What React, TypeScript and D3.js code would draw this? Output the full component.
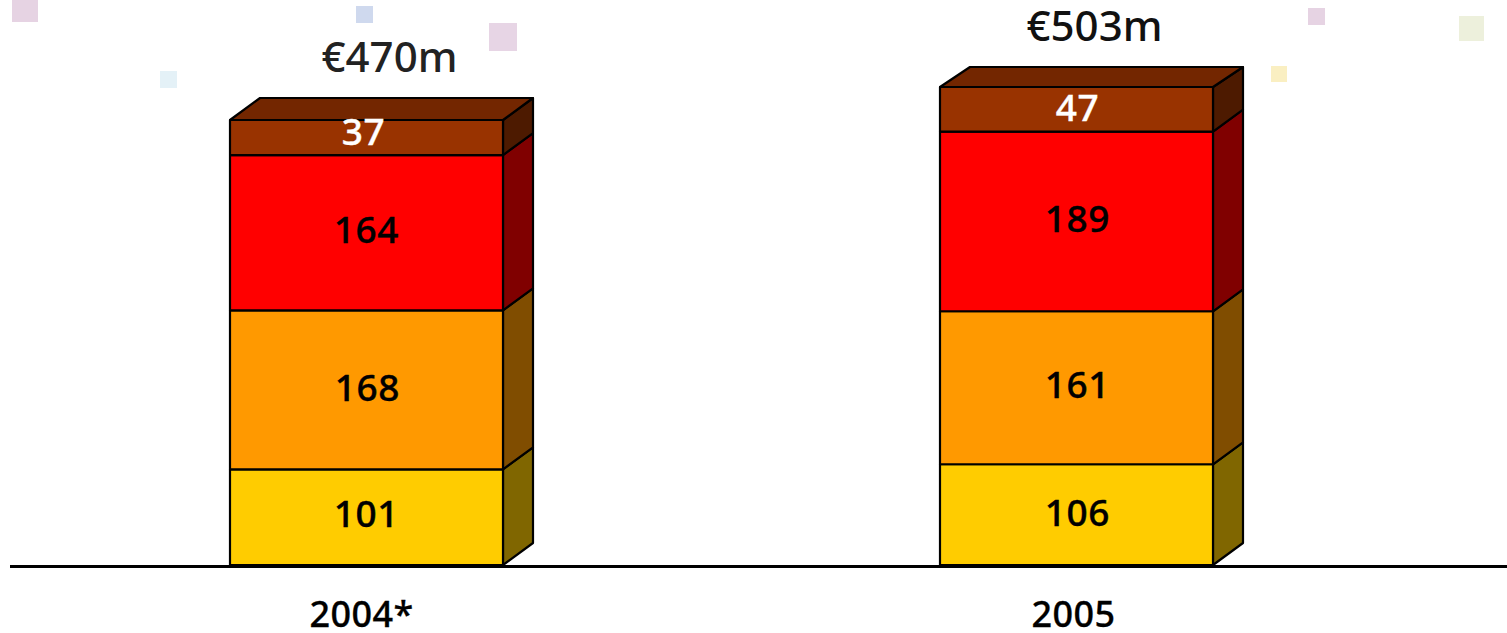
import React from "react";
import * as d3 from "d3";

const WIDTH = 1507;
const HEIGHT = 633;

const years = ["2004*", "2005"];
const totals = ["€470m", "€503m"];
const totalValues = [470, 503];
const segment2004 = [101, 168, 164, 37];
const segment2005 = [106, 161, 189, 47];
const segmentValues = [segment2004, segment2005];

const frontColors = ["#ffcc00", "#ff9900", "#ff0000", "#993300"];
const sideColors = ["#806600", "#804d00", "#800000", "#4d1a00"];
const topColor = "#732600";
const labelColors = ["#000000", "#000000", "#000000", "#ffffff"];

// Offsets nudging each value label to where it sits on its block.
const labelNudgeX = [
  [0, 1, 0, -3],
  [1, 1, 1, 1],
];
const labelNudgeY = [
  [-3, -2, -3, -6],
  [-2, -3, -2, -1],
];

// Pale confetti squares scattered behind the chart: x, y, size, colour.
const squareX = [12, 160, 356, 489, 1271, 1308, 1459];
const squareY = [-4, 71, 6, 23, 66, 8, 16];
const squareSize = [26, 17, 17, 28, 16, 17, 25];
const squareFill = ["#e6d3e3", "#e4f1f7", "#cfd9ee", "#e7d5e5", "#faefc2", "#e6d3e3", "#edf0dc"];

const fontFamily = "'Noto Sans', sans-serif";
const baseline = 565;
const barWidth = 273;
const depthX = 30;
const depthY = 22;
const stackTops = [120, 87];
const lidDepthY = [22, 20];

const x = d3.scalePoint<string>().domain(years).range([366.5, 1076.5]);
const yFor = (i: number) =>
  d3.scaleLinear().domain([0, totalValues[i]]).range([baseline, stackTops[i]]);

const poly = (pts: [number, number][]) => d3.line()(pts) + "Z";

export default function App() {
  return (
    <svg
      width={WIDTH}
      height={HEIGHT}
      style={{ position: "absolute", left: 0, top: 0, background: "#fff" }}
      fontFamily={fontFamily}
    >
      {squareX.map((sx, i) => (
        <rect key={i} x={sx} y={squareY[i]} width={squareSize[i]} height={squareSize[i]} fill={squareFill[i]} />
      ))}

      {years.map((year, yi) => {
        const y = yFor(yi);
        const cx = x(year)!;
        const left = cx - barWidth / 2;
        const right = cx + barWidth / 2;
        const stack = d3.cumsum(segmentValues[yi]);
        const top = y(stack[stack.length - 1]);
        const lid = lidDepthY[yi];
        const lastIndex = segmentValues[yi].length - 1;
        return (
          <g key={year}>
            {segmentValues[yi].map((v, si) => {
              const y0 = y(stack[si] - v);
              const y1 = y(stack[si]);
              const rise = si === lastIndex ? lid : depthY;
              return (
                <g key={si} stroke="#000" strokeWidth={2.2} strokeLinejoin="round">
                  <path
                    d={poly([[right, y0], [right + depthX, y0 - depthY], [right + depthX, y1 - rise], [right, y1]])}
                    fill={sideColors[si]}
                  />
                  <rect x={left} y={y1} width={barWidth} height={y0 - y1} fill={frontColors[si]} />
                </g>
              );
            })}
            <path
              d={poly([[left, top], [left + depthX, top - lid], [right + depthX, top - lid], [right, top]])}
              fill={topColor}
              stroke="#000"
              strokeWidth={2.2}
              strokeLinejoin="round"
            />
            {segmentValues[yi].map((v, si) => {
              const y0 = y(stack[si] - v);
              const y1 = y(stack[si]);
              return (
                <text
                  key={si}
                  x={cx + labelNudgeX[yi][si]}
                  y={(y0 + y1) / 2 + 13 + labelNudgeY[yi][si]}
                  textAnchor="middle"
                  fontSize={37}
                  fontWeight={500}
                  stroke={labelColors[si]}
                  strokeWidth={0.4}
                  letterSpacing={0.6}
                  fill={labelColors[si]}
                >
                  {v}
                </text>
              );
            })}
            <text
              x={cx + (yi === 0 ? 23 : 18)}
              y={yi === 0 ? 72 : 41}
              textAnchor="middle"
              fontSize={42}
              fontWeight={500}
              fill={yi === 0 ? "#222222" : "#111111"}
            >
              {totals[yi]}
            </text>
            <text
              x={yi === 0 ? cx - 5 : cx - 3}
              y={627}
              textAnchor="middle"
              fontSize={36}
              fontWeight={500}
              stroke="#000"
              strokeWidth={0.3}
              letterSpacing={0.4}
              fill="#000"
            >
              {year}
            </text>
          </g>
        );
      })}

      <line x1={10} x2={WIDTH} y1={baseline + 1.5} y2={baseline + 1.5} stroke="#000" strokeWidth={3} />
    </svg>
  );
}
